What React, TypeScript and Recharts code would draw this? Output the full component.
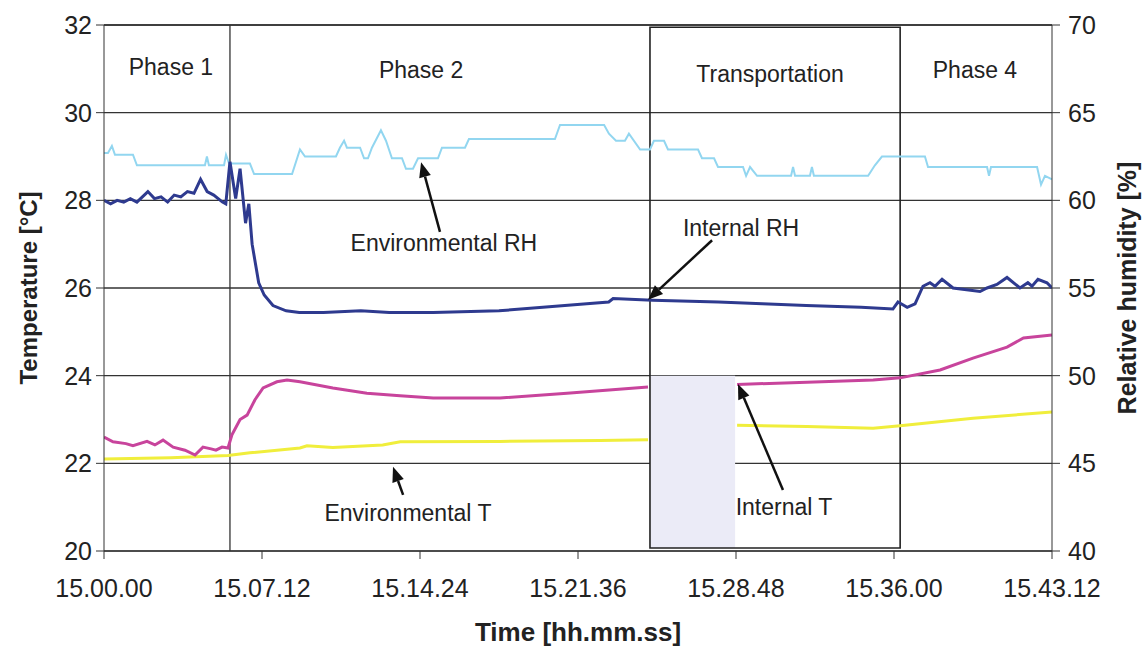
import React from 'react';
import {
  LineChart,
  Line,
  XAxis,
  YAxis,
  CartesianGrid,
  ReferenceLine,
  ReferenceArea,
  ReferenceDot,
} from 'recharts';

const FONT = '"Liberation Sans", Arial, sans-serif';

// time in minutes after 15.00.00
const timeTicks = [0, 7.2, 14.4, 21.6, 28.8, 36, 43.2];
const tempTicks = [20, 22, 24, 26, 28, 30, 32];
const rhTicks = [40, 45, 50, 55, 60, 65, 70];

// [t, RH %]
const envRH: [number, number][] = [
  [0, 62.7], [0.18, 62.7], [0.36, 63.1], [0.5, 62.6], [1.32, 62.6], [1.5, 62.0],
  [4.6, 62.0], [4.69, 62.5], [4.78, 62.0], [5.47, 62.0], [5.56, 62.6], [5.7, 62.1],
  [6.65, 62.1], [6.84, 61.5], [8.57, 61.5], [8.93, 62.9], [9.16, 62.5], [10.57, 62.5],
  [10.75, 63.0], [10.94, 63.4], [11.07, 63.0], [11.67, 63.0], [11.85, 62.4], [12.03, 62.4],
  [12.21, 63.0], [12.62, 64.0], [12.85, 63.4], [13.12, 62.4], [13.58, 62.4], [13.76, 61.8],
  [14.08, 61.8], [14.31, 62.4], [15.22, 62.4], [15.4, 63.0], [16.45, 63.0], [16.63, 63.5],
  [20.55, 63.5], [20.78, 64.3], [22.79, 64.3], [23.01, 63.8], [23.33, 63.4], [23.74, 63.4],
  [23.92, 63.8], [24.43, 62.9], [24.88, 62.9], [25.06, 63.4], [25.52, 63.4], [25.7, 62.9],
  [27.07, 62.9], [27.25, 62.4], [27.8, 62.4], [27.98, 61.9], [29.12, 61.9], [29.26, 61.4],
  [29.44, 61.9], [29.76, 61.4], [31.31, 61.4], [31.4, 61.9], [31.49, 61.4], [32.17, 61.4],
  [32.26, 61.9], [32.35, 61.4], [34.82, 61.4], [35.13, 62.0], [35.45, 62.5], [37.41, 62.5],
  [37.55, 61.9], [40.24, 61.9], [40.33, 61.4], [40.42, 61.9], [42.52, 61.9], [42.7, 60.9],
  [42.88, 61.4], [43.2, 61.2],
];

const intRH: [number, number][] = [
  [0, 60.0], [0.3, 59.8], [0.6, 60.0], [0.9, 59.9], [1.2, 60.1], [1.5, 59.9], [2.0, 60.5],
  [2.3, 60.1], [2.6, 60.2], [2.9, 59.9], [3.2, 60.3], [3.5, 60.2], [3.8, 60.5], [4.1, 60.4],
  [4.4, 61.2], [4.7, 60.5], [5.0, 60.3], [5.4, 59.9], [5.55, 59.8], [5.74, 62.2], [6.0, 60.1],
  [6.2, 61.8], [6.45, 58.7], [6.6, 59.8], [6.75, 57.5], [6.9, 56.4], [7.05, 55.3], [7.3, 54.6],
  [7.7, 54.0], [8.3, 53.7], [8.9, 53.6], [10.0, 53.6], [11.7, 53.7], [13.0, 53.6], [15.0, 53.6],
  [18.0, 53.7], [20.0, 53.9], [22.0, 54.1], [23.0, 54.2], [23.2, 54.4], [25.0, 54.3],
  [28.0, 54.2], [30.0, 54.1], [32.0, 54.0], [34.5, 53.9], [35.95, 53.8], [36.18, 54.2],
  [36.6, 53.9], [36.96, 54.1], [37.32, 55.1], [37.64, 55.3], [37.87, 55.1], [38.19, 55.5],
  [38.69, 55.0], [39.92, 54.8], [40.24, 55.0], [40.69, 55.2], [41.15, 55.6], [41.74, 55.0],
  [42.1, 55.3], [42.29, 55.1], [42.56, 55.5], [42.97, 55.3], [43.2, 55.0],
];

// [t, °C]; null = not recorded during loading
const intT: [number, number | null][] = [
  [0, 22.6], [0.41, 22.49], [1.0, 22.45], [1.32, 22.4], [1.96, 22.5], [2.32, 22.42],
  [2.69, 22.53], [3.15, 22.37], [3.69, 22.3], [4.15, 22.19], [4.51, 22.37], [4.88, 22.33],
  [5.1, 22.3], [5.38, 22.37], [5.65, 22.35], [5.83, 22.65], [6.2, 23.0], [6.52, 23.1],
  [6.88, 23.45], [7.25, 23.72], [7.88, 23.86], [8.34, 23.9], [8.93, 23.86], [10.43, 23.72],
  [11.98, 23.6], [13.49, 23.54], [15.0, 23.49], [18.05, 23.49], [21.1, 23.6], [24.79, 23.74],
  [26.8, null], [28.85, 23.8], [32.04, 23.85], [35.05, 23.9], [36.28, 23.95], [38.1, 24.13],
  [39.6, 24.4], [41.15, 24.65], [41.9, 24.86], [43.2, 24.93],
];

const envT: [number, number | null][] = [
  [0, 22.1], [3.05, 22.13], [5.65, 22.18], [6.65, 22.24], [8.93, 22.35], [9.25, 22.4],
  [10.43, 22.36], [12.7, 22.42], [13.5, 22.49], [18.05, 22.5], [22.6, 22.52], [24.79, 22.54],
  [26.8, null], [28.85, 22.87], [32.04, 22.84], [35.05, 22.8], [36.28, 22.86], [39.6, 23.03],
  [43.2, 23.17],
];

const phaseLabels = [
  { text: 'Phase 1', t: 3.05, T: 31.04 },
  { text: 'Phase 2', t: 14.45, T: 30.97 },
  { text: 'Transportation', t: 30.35, T: 30.88 },
  { text: 'Phase 4', t: 39.69, T: 30.97 },
];

const notes = [
  { text: 'Environmental RH', t: 15.49, T: 27.03, from: [15.31, 27.28], to: [14.45, 28.87] },
  { text: 'Internal RH', t: 29.03, T: 27.37, from: [27.71, 27.09], to: [24.79, 25.73] },
  { text: 'Environmental T', t: 13.85, T: 20.87, from: [13.63, 21.28], to: [13.17, 21.92] },
  { text: 'Internal T', t: 30.99, T: 21.0, from: [30.94, 21.39], to: [28.89, 23.81] },
];

const phaseBoundary = 5.74;
const transport = { start: 24.88, end: 36.28, loadEnd: 28.76 };

const toPts = (arr: [number, number | null][]) => arr.map(([t, v]) => ({ t, v }));

const fmtTime = (t: number) => {
  const m = Math.floor(t + 1e-9);
  const s = Math.round((t - m) * 60);
  return `15.${String(m).padStart(2, '0')}.${String(s).padStart(2, '0')}`;
};

const textShape = (label: string, size: number) => (p: any) => (
  <text
    x={p.cx}
    y={p.cy}
    textAnchor="middle"
    dominantBaseline="central"
    fontSize={size}
    fontFamily={FONT}
    fill="#222"
  >
    {label}
  </text>
);

const arrowShape = (p: any) => {
  const { x1, y1, x2, y2 } = p;
  const a = Math.atan2(y2 - y1, x2 - x1);
  const L = 15;
  const W = 6;
  const bx = x2 - L * Math.cos(a);
  const by = y2 - L * Math.sin(a);
  const pts = `${x2},${y2} ${bx + W * Math.sin(a)},${by - W * Math.cos(a)} ${bx - W * Math.sin(a)},${by + W * Math.cos(a)}`;
  return (
    <g>
      <line x1={x1} y1={y1} x2={bx} y2={by} stroke="#111" strokeWidth={2.5} />
      <polygon points={pts} fill="#111" />
    </g>
  );
};

const tickStyle = { fontSize: 25, fill: '#222', fontFamily: FONT };

const rotatedTitle = (label: string, dx: number, size: number) => (p: any) => {
  const x = p.viewBox.x + dx;
  const y = p.viewBox.y + p.viewBox.height / 2;
  return (
    <text
      x={x}
      y={y}
      transform={`rotate(-90 ${x} ${y})`}
      textAnchor="middle"
      dominantBaseline="central"
      fontSize={size}
      fontWeight="bold"
      fontFamily={FONT}
      fill="#222"
    >
      {label}
    </text>
  );
};

export default function App() {
  return (
    <div style={{ position: 'absolute', left: 0, top: 0, width: 1142, height: 646, background: '#fff' }}>
      <LineChart width={1142} height={646} margin={{ top: 25, right: 0, bottom: 0, left: 14 }}>
        <CartesianGrid yAxisId="T" vertical={false} stroke="#333" strokeWidth={1.3} />
        <XAxis
          type="number"
          dataKey="t"
          domain={[0, 43.2]}
          ticks={timeTicks}
          tickFormatter={fmtTime}
          height={95}
          tickSize={8}
          tickMargin={20}
          tick={tickStyle}
          stroke="#333"
          allowDataOverflow
          label={{
            content: (p: any) => (
              <text
                x={p.viewBox.x + p.viewBox.width / 2}
                y={p.viewBox.y + 81}
                textAnchor="middle"
                dominantBaseline="central"
                fontSize={26}
                fontWeight="bold"
                fontFamily={FONT}
                fill="#222"
              >
                Time [hh.mm.ss]
              </text>
            ),
          }}
        />
        <YAxis
          yAxisId="T"
          domain={[20, 32]}
          ticks={tempTicks}
          width={90}
          tickSize={8}
          tickMargin={4}
          tick={tickStyle}
          stroke="#333"
          label={{ content: rotatedTitle('Temperature [°C]', 14, 24) }}
        />
        <YAxis
          yAxisId="RH"
          orientation="right"
          domain={[40, 70]}
          ticks={rhTicks}
          width={90}
          tickSize={8}
          tickMargin={8}
          tick={tickStyle}
          stroke="#333"
          label={{ content: rotatedTitle('Relative humidity [%]', 75, 25) }}
        />

        <ReferenceLine yAxisId="T" y={32} stroke="#333" strokeWidth={1.3} />
        <ReferenceLine yAxisId="T" x={phaseBoundary} stroke="#333" strokeWidth={1.3} />
        <ReferenceArea
          yAxisId="T"
          x1={transport.start}
          x2={transport.loadEnd}
          y1={20.07}
          y2={24}
          fill="#ebebf7"
          fillOpacity={1}
          stroke="none"
        />
        <ReferenceArea
          yAxisId="T"
          x1={transport.start}
          x2={transport.end}
          y1={20.07}
          y2={31.95}
          fill="none"
          stroke="#222"
          strokeWidth={1.6}
        />

        <Line
          data={toPts(envRH)}
          yAxisId="RH"
          dataKey="v"
          type="linear"
          stroke="#92d6f0"
          strokeWidth={2}
          dot={false}
          isAnimationActive={false}
        />
        <Line
          data={toPts(intRH)}
          yAxisId="RH"
          dataKey="v"
          type="linear"
          stroke="#2e3a8f"
          strokeWidth={3}
          dot={false}
          isAnimationActive={false}
        />
        <Line
          data={toPts(envT)}
          yAxisId="T"
          dataKey="v"
          type="linear"
          stroke="#f0ee3c"
          strokeWidth={3}
          dot={false}
          isAnimationActive={false}
        />
        <Line
          data={toPts(intT)}
          yAxisId="T"
          dataKey="v"
          type="linear"
          stroke="#c8449c"
          strokeWidth={3}
          dot={false}
          isAnimationActive={false}
        />

        {phaseLabels.map((p) => (
          <ReferenceDot key={p.text} yAxisId="T" x={p.t} y={p.T} r={0} shape={textShape(p.text, 23)} />
        ))}
        {notes.map((n) => (
          <ReferenceLine
            key={n.text + '-arrow'}
            yAxisId="T"
            segment={[
              { x: n.from[0], y: n.from[1] },
              { x: n.to[0], y: n.to[1] },
            ]}
            shape={arrowShape}
          />
        ))}
        {notes.map((n) => (
          <ReferenceDot key={n.text} yAxisId="T" x={n.t} y={n.T} r={0} shape={textShape(n.text, 23)} />
        ))}
      </LineChart>
    </div>
  );
}
